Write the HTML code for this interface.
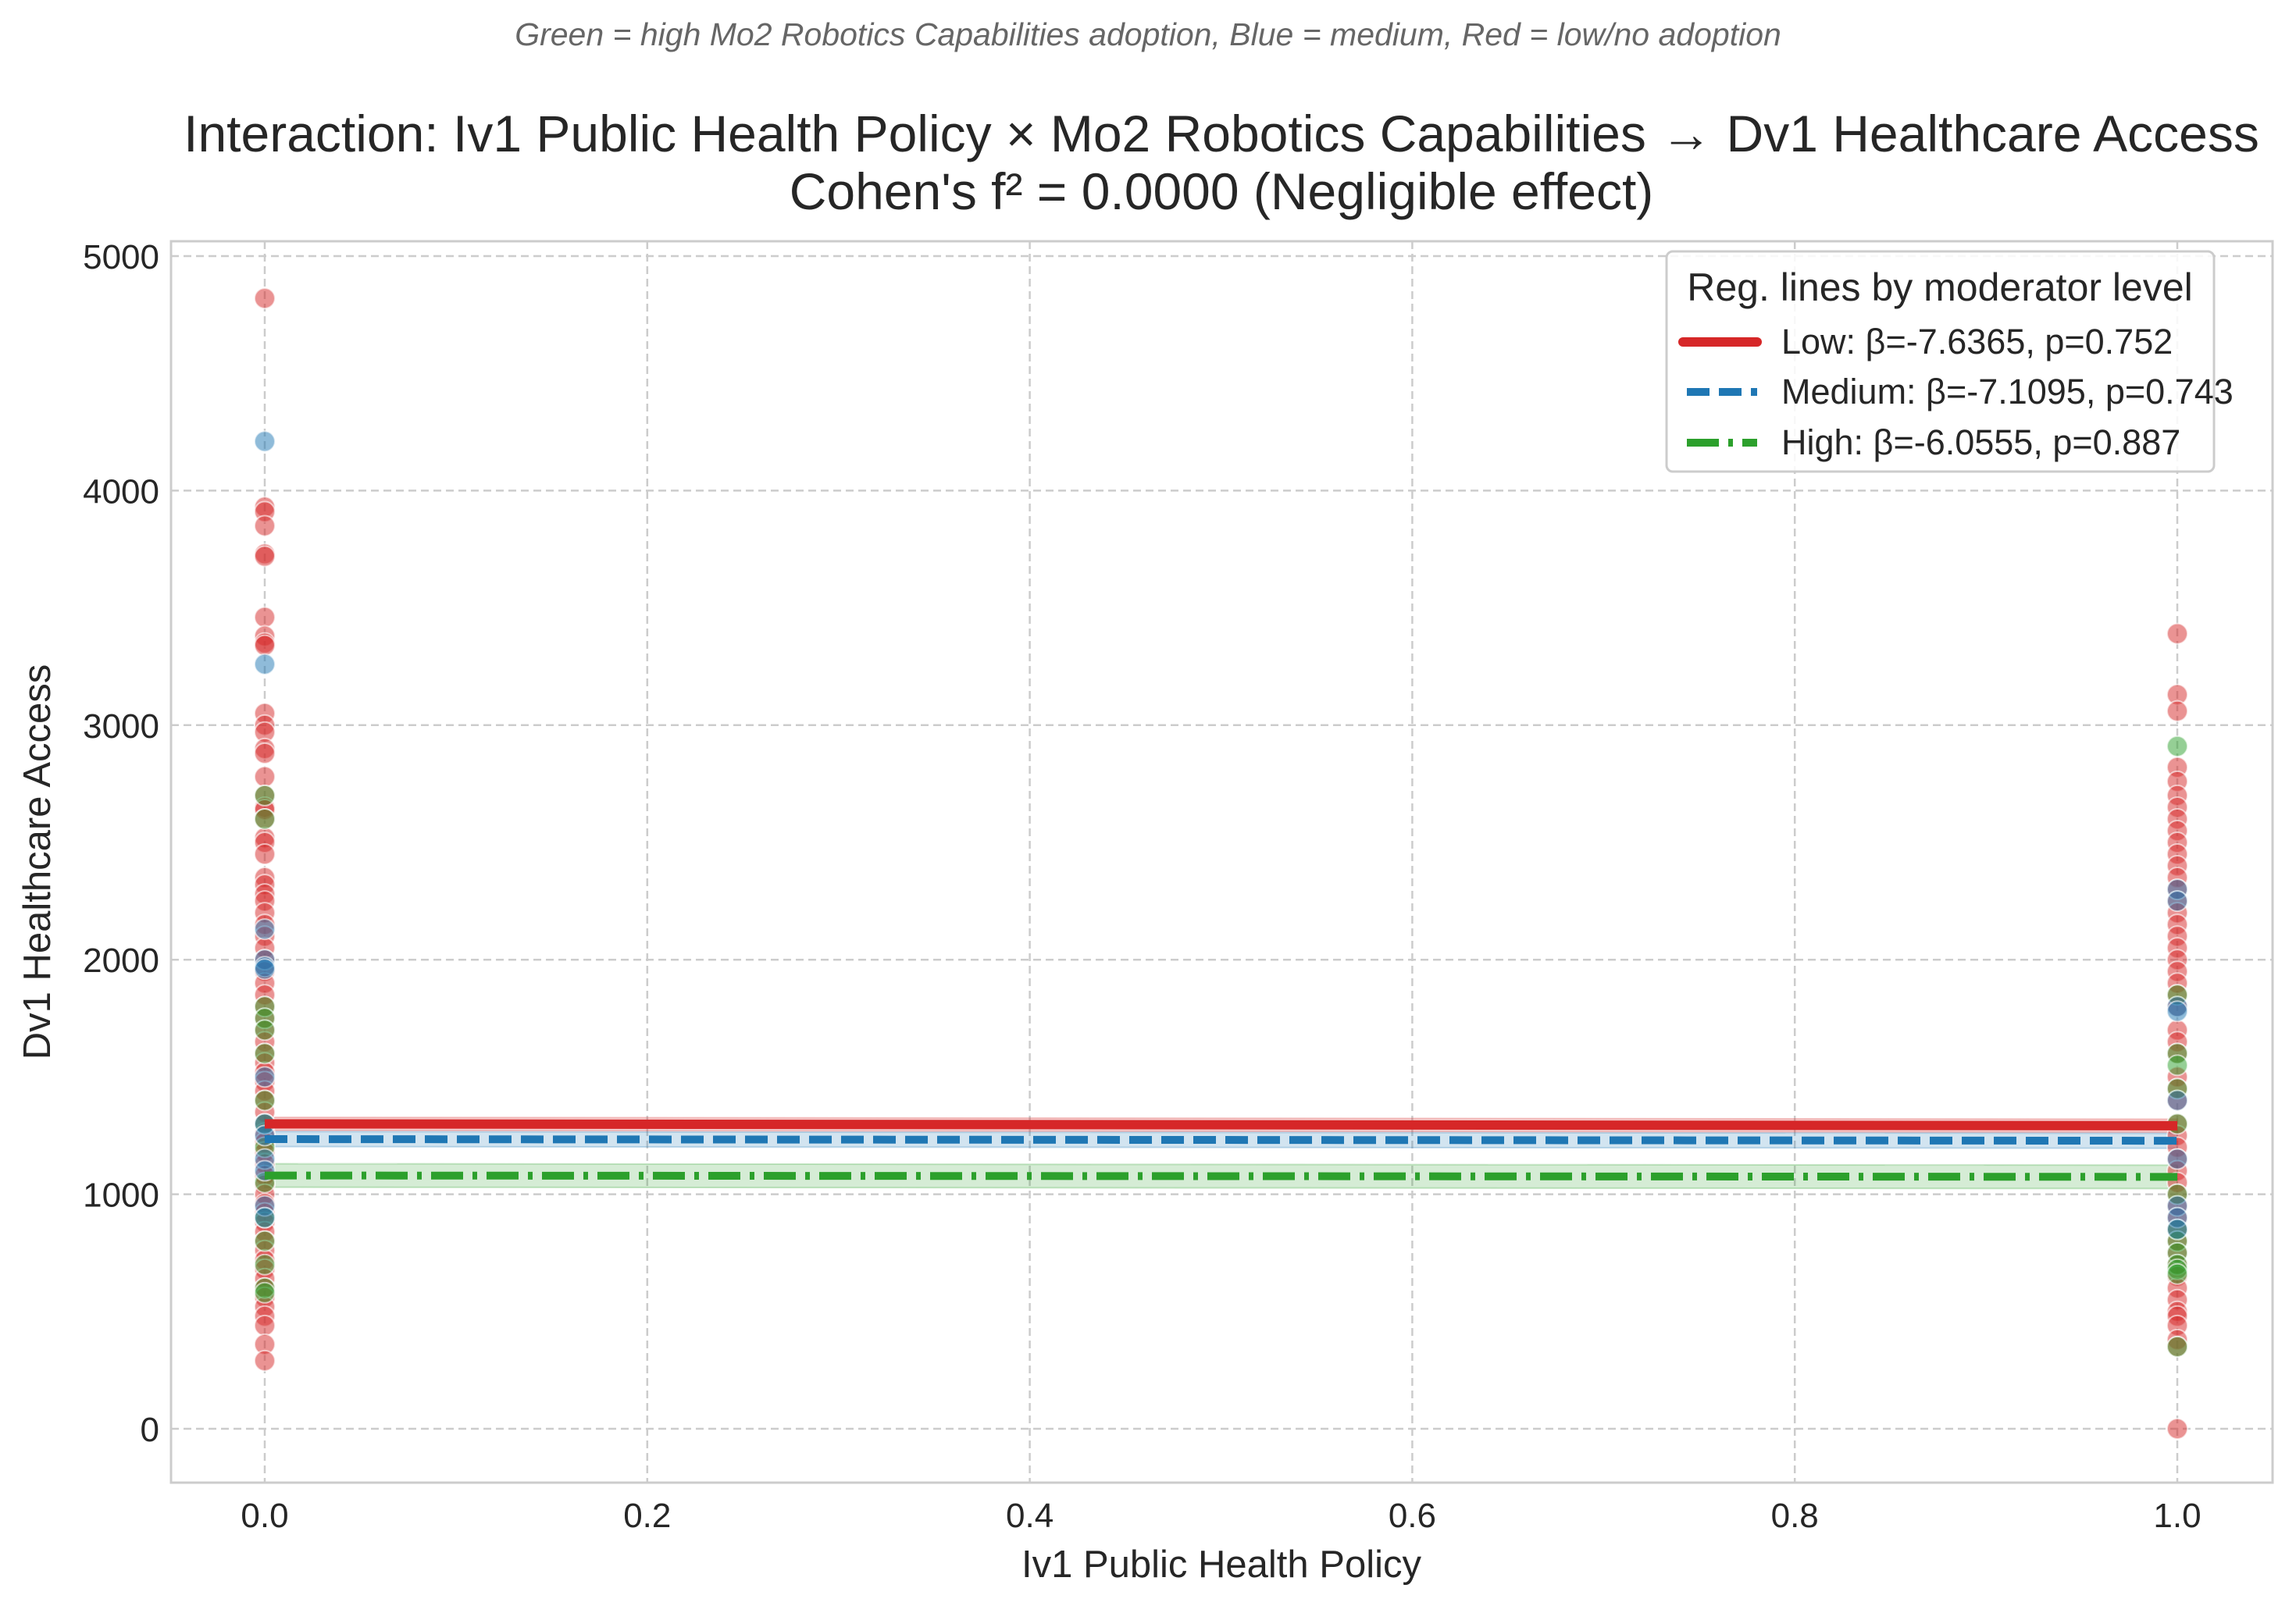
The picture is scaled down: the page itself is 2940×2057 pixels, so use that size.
<!DOCTYPE html>
<html><head><meta charset="utf-8"><style>
html,body{margin:0;padding:0;background:#fff;}
svg{display:block;font-family:"Liberation Sans",Arial,sans-serif;}
</style></head><body>
<svg id="chart" width="2940" height="2057" viewBox="0 0 2940 2057" xmlns="http://www.w3.org/2000/svg">
<rect x="0" y="0" width="2940" height="2057" fill="#fff"/>
<text x="1470" y="58" text-anchor="middle" font-size="41" font-style="italic" fill="#666">Green = high Mo2 Robotics Capabilities adoption, Blue = medium, Red = low/no adoption</text>
<text x="1564" y="194" text-anchor="middle" font-size="66" fill="#262626">Interaction: Iv1 Public Health Policy × Mo2 Robotics Capabilities → Dv1 Healthcare Access</text>
<text x="1564" y="268" text-anchor="middle" font-size="66" fill="#262626">Cohen's f² = 0.0000 (Negligible effect)</text>
<g id="grid"></g>
<g id="bands"></g>
<g id="points"></g>
<g id="lines"></g>
<rect x="219" y="309" width="2691" height="1590" fill="none" stroke="#cccccc" stroke-width="3"/>
<g id="ticks"></g>
<text x="1564" y="2020" text-anchor="middle" font-size="49" fill="#262626">Iv1 Public Health Policy</text>
<text transform="translate(64,1104) rotate(-90)" text-anchor="middle" font-size="49" fill="#262626">Dv1 Healthcare Access</text>
<g>
<rect x="2134" y="322" width="701" height="282" rx="8" fill="#fff" fill-opacity="0.85" stroke="#cccccc" stroke-width="3"/>
<text x="2484" y="385" text-anchor="middle" font-size="50" fill="#262626">Reg. lines by moderator level</text>
<line x1="2155" y1="438" x2="2250" y2="438" stroke="#d62728" stroke-width="12" stroke-linecap="round"/>
<text x="2281" y="453" font-size="45" fill="#262626">Low: β=-7.6365, p=0.752</text>
<line x1="2160" y1="502" x2="2250" y2="502" stroke="#1f77b4" stroke-width="10" stroke-dasharray="29,12"/>
<text x="2281" y="517" font-size="45" fill="#262626">Medium: β=-7.1095, p=0.743</text>
<line x1="2160" y1="567" x2="2250" y2="567" stroke="#2ca02c" stroke-width="10" stroke-dasharray="41,12,6,12"/>
<text x="2281" y="582" font-size="45" fill="#262626">High: β=-6.0555, p=0.887</text>
</g>
</svg>
<script>
const xTicks = [0, 0.2, 0.4, 0.6, 0.8, 1.0];
const xTickLabels = ["0.0","0.2","0.4","0.6","0.8","1.0"];
const yTicks = [0, 1000, 2000, 3000, 4000, 5000];
const yTickLabels = ["0","1000","2000","3000","4000","5000"];
const redAt0 = [4820,3930,3910,3850,3730,3720,3460,3380,3350,3340,3050,3000,2970,2900,2880,2780,2700,2650,2640,2600,2520,2500,2450,2350,2320,2280,2250,2200,2150,2100,2050,2000,1950,1900,1850,1800,1750,1700,1650,1600,1560,1520,1480,1440,1400,1350,1300,1260,1220,1180,1130,1080,1040,1000,960,920,880,840,800,760,720,680,640,600,560,520,480,440,360,290];
const blueAt0 = [4210,3260,2130,2000,1970,1960,1500,1300,1250,1150,1100,950,900];
const greenAt0 = [2700,2600,1800,1750,1700,1600,1400,1300,1200,1050,900,800,700,600,580];
const redAt1 = [3390,3130,3060,2820,2760,2700,2650,2600,2550,2500,2450,2400,2350,2300,2250,2200,2150,2100,2050,2000,1950,1900,1850,1800,1700,1650,1600,1500,1450,1400,1300,1250,1200,1150,1100,1050,1000,950,900,850,800,750,700,650,600,550,500,480,440,380,350,0];
const blueAt1 = [2300,2250,1800,1780,1400,1150,950,900,850];
const greenAt1 = [2910,1850,1600,1550,1450,1300,1000,850,800,750,700,680,660,350];
const lineNames = ["low","medium","high"];
const lineStart = [1300, 1235, 1080];
const lineEnd = [1292, 1228, 1074];
const ciHalf = [28, 32, 50];

const NS = "http://www.w3.org/2000/svg";
const X0 = 339, X1 = 2788, YB = 1830, YT = 328;
const sx = v => X0 + v * (X1 - X0);
const sy = v => YB - v / 5000 * (YB - YT);
function mk(tag, attrs, parent){ const e = document.createElementNS(NS, tag); for (const k in attrs) e.setAttribute(k, attrs[k]); parent.appendChild(e); return e; }
const grid = document.getElementById('grid'), ticks = document.getElementById('ticks');
xTicks.forEach((t,i)=>{
  const l = mk('line',{x1:sx(t),x2:sx(t),y1:309,y2:1899,stroke:'#cccccc','stroke-width':2.5,'stroke-dasharray':'10,6'},grid);
   
  const tx = mk('text',{x:sx(t),y:1956,'text-anchor':'middle','font-size':44,fill:'#262626'},ticks);
  tx.textContent = xTickLabels[i];
   
});
yTicks.forEach((t,i)=>{
  const l = mk('line',{x1:219,x2:2910,y1:sy(t),y2:sy(t),stroke:'#cccccc','stroke-width':2.5,'stroke-dasharray':'10,6'},grid);
   
  const tx = mk('text',{x:204,y:sy(t)+16,'text-anchor':'end','font-size':44,fill:'#262626'},ticks);
  tx.textContent = yTickLabels[i];
   
});
const colors = {red:'#d62728', blue:'#1f77b4', green:'#2ca02c'};
const pts = document.getElementById('points');
function drawPts(arr, xv, col){
  arr.forEach(v=>{
    const c = mk('circle',{cx:sx(xv),cy:sy(v),r:13,fill:colors[col],'fill-opacity':0.5,stroke:'#fff','stroke-opacity':0.6,'stroke-width':2},pts);
     
  });
}
drawPts(redAt0,0,'red'); drawPts(redAt1,1,'red');
drawPts(greenAt0,0,'green'); drawPts(greenAt1,1,'green');
drawPts(blueAt0,0,'blue'); drawPts(blueAt1,1,'blue');
const lineCols = ['#d62728','#1f77b4','#2ca02c'];
const dashes = ['none','29,12','41,12,6,12'];
const widths = [12,10,10];
const bands = document.getElementById('bands'), lines = document.getElementById('lines');
lineNames.forEach((n,i)=>{
  const a = lineStart[i], b = lineEnd[i], h = ciHalf[i];
  const p = mk('polygon',{points:`${sx(0)},${sy(a+h)} ${sx(1)},${sy(b+h)} ${sx(1)},${sy(b-h)} ${sx(0)},${sy(a-h)}`,fill:lineCols[i],'fill-opacity':0.2,stroke:lineCols[i],'stroke-opacity':0.25,'stroke-width':2},bands);
   
});
lineNames.forEach((n,i)=>{
  const l = mk('line',{x1:sx(0),y1:sy(lineStart[i]),x2:sx(1),y2:sy(lineEnd[i]),stroke:lineCols[i],'stroke-width':widths[i],'stroke-dasharray':dashes[i]},lines);
   
});
</script>
</body></html>
